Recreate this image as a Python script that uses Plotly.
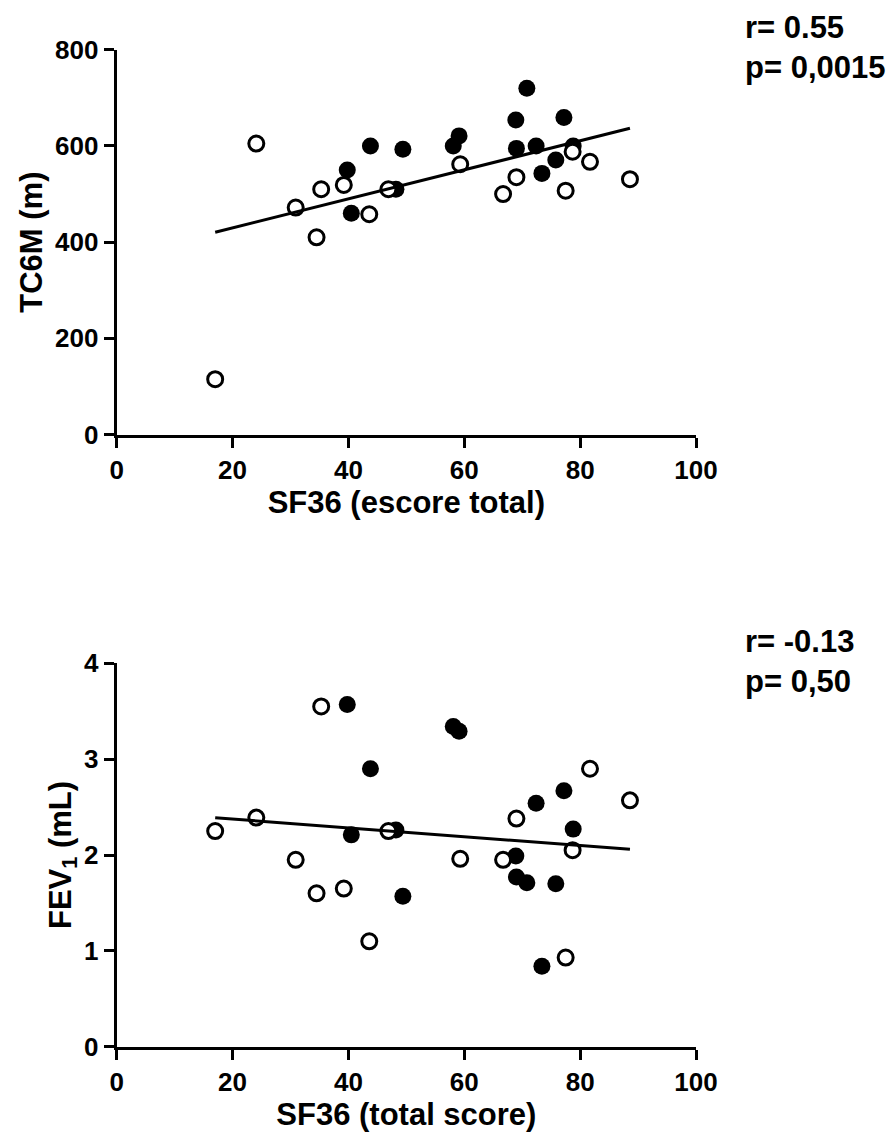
import numpy as np
import plotly.graph_objects as go

# SF36 total score, shared by both panels (same patients)
sf36_open = [17.0, 24.1, 30.9, 34.5, 35.3, 39.2, 43.6, 46.9, 59.3, 66.7, 69.0, 77.5, 78.7, 81.7, 88.6]
sf36_filled = [39.8, 40.5, 43.8, 48.2, 49.4, 58.1, 59.1, 68.9, 69.0, 70.8, 72.4, 73.4, 75.8, 77.2, 78.8]

# TC6M (m)
tc6m_open = [115, 605, 472, 410, 510, 519, 458, 510, 562, 500, 535, 507, 588, 567, 531]
tc6m_filled = [550, 460, 600, 510, 593, 600, 621, 654, 595, 720, 600, 543, 571, 659, 600]

# FEV1 (mL)
fev1_open = [2.25, 2.39, 1.95, 1.60, 3.55, 1.65, 1.10, 2.25, 1.96, 1.95, 2.38, 0.93, 2.05, 2.90, 2.57]
fev1_filled = [3.57, 2.21, 2.90, 2.26, 1.57, 3.34, 3.29, 1.99, 1.77, 1.71, 2.54, 0.84, 1.70, 2.67, 2.27]

stats_top = ["r= 0.55", "p= 0,0015"]
stats_bottom = ["r= -0.13", "p= 0,50"]

FONT = "Liberation Sans"
# the html page has an 8px body margin, so the figure is a bit smaller than the window
W, H = 887, 1134

fig = go.Figure()


def add_panel(xa, ya, y_open, y_filled):
    fig.add_trace(go.Scatter(
        x=sf36_filled, y=y_filled, mode="markers", xaxis=xa, yaxis=ya,
        marker=dict(size=17, color="black", line=dict(width=0)),
        showlegend=False, cliponaxis=False))
    fig.add_trace(go.Scatter(
        x=sf36_open, y=y_open, mode="markers", xaxis=xa, yaxis=ya,
        marker=dict(size=15, color="white", line=dict(width=3, color="black")),
        showlegend=False, cliponaxis=False))
    # linear regression over all points
    xs = np.array(sf36_open + sf36_filled)
    ys = np.array(y_open + y_filled)
    slope, icpt = np.polyfit(xs, ys, 1)
    xl = np.array([xs.min(), xs.max()])
    fig.add_trace(go.Scatter(
        x=xl, y=slope * xl + icpt, mode="lines", xaxis=xa, yaxis=ya,
        line=dict(color="black", width=3), showlegend=False))


add_panel("x", "y", tc6m_open, tc6m_filled)
add_panel("x2", "y2", fev1_open, fev1_filled)

x_dom = [108.7 / W, 688 / W]
axis_common = dict(
    showgrid=False, zeroline=False, showline=True, linewidth=3, linecolor="black",
    ticks="outside", ticklen=10, tickwidth=3, tickcolor="black", automargin=False,
    tickfont=dict(family=FONT, size=26, color="black"),
)
title_font = dict(family=FONT, size=31, color="black")

fig.update_layout(
    width=W, height=H,
    margin=dict(l=0, r=0, t=0, b=0),
    paper_bgcolor="white", plot_bgcolor="white",
    font=dict(family=FONT, color="black"),
    xaxis=dict(domain=x_dom, range=[0, 100], dtick=20, anchor="y",
               title=dict(text="<b>SF36 (escore total)</b>", font=title_font, standoff=5),
               **axis_common),
    yaxis=dict(domain=[1 - 426.5 / H, 1 - 41.8 / H], range=[0, 800], dtick=200, anchor="x",
               title=dict(text="<b>TC6M (m)</b>", font=title_font, standoff=4),
               **axis_common),
    xaxis2=dict(domain=x_dom, range=[0, 100], dtick=20, anchor="y2",
                title=dict(text="<b>SF36 (total score)</b>", font=title_font, standoff=5),
                **axis_common),
    yaxis2=dict(domain=[1 - 1038.7 / H, 1 - 655.3 / H], range=[0, 4], dtick=1, anchor="x2",
                title=dict(text="<b>FEV<sub>1</sub> (mL)</b>", font=title_font, standoff=4),
                **axis_common),
)
fig.update_xaxes(tickprefix="<b>", ticksuffix="</b>")
fig.update_yaxes(tickprefix="<b>", ticksuffix="</b>")

for lines, ytop in [(stats_top, 1.0), (stats_bottom, 1 - 614 / H)]:
    fig.add_annotation(
        x=735 / W, y=ytop, xref="paper", yref="paper", xanchor="left", yanchor="top",
        text="<br>".join(f"<b>{s}</b>" for s in lines), showarrow=False, align="left",
        font=dict(family=FONT, size=31, color="black"))

fig.write_html("out.html")
